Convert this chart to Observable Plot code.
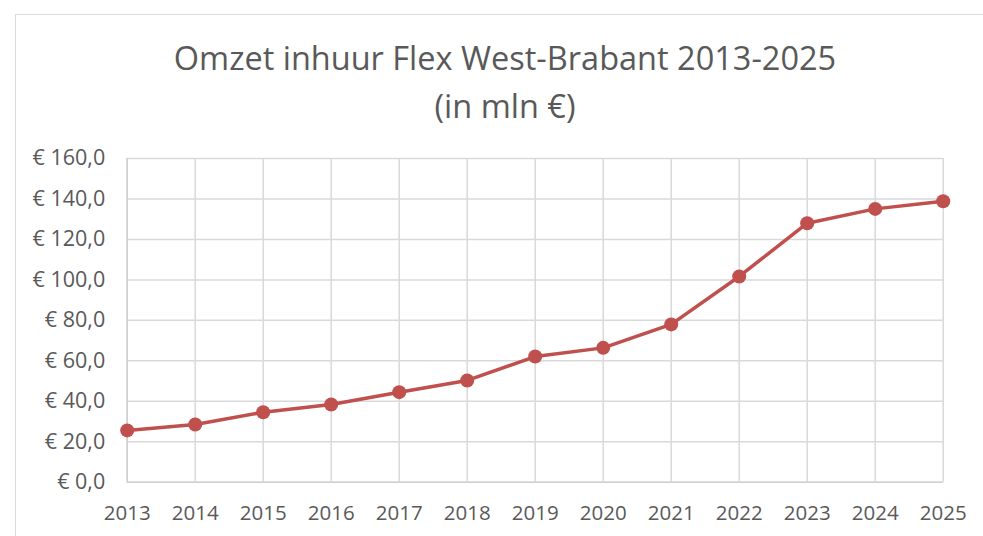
<!DOCTYPE html>
<html>
<head>
<meta charset="utf-8">
<script src="https://cdn.jsdelivr.net/npm/d3@7"></script>
<script src="https://cdn.jsdelivr.net/npm/@observablehq/plot@0.6"></script>
<style>
  html, body { margin: 0; padding: 0; background: #fff; }
  #wrap { position: relative; width: 983px; height: 536px; overflow: hidden; font-family: "Open Sans", sans-serif; }
  #frame { position: absolute; left: 15px; top: 14px; width: 1100px; height: 700px; border-left: 1.5px solid #d9d9d9; border-top: 1.5px solid #d9d9d9; }
  .title { position: absolute; left: 5px; width: 1000px; text-align: center; font-size: 32.5px; line-height: 48px; color: #595959; white-space: nowrap; }
  #chart { position: absolute; left: 0; top: 140px; }
</style>
</head>
<body>
<div id="wrap">
  <div id="frame"></div>
  <div class="title" style="top:34px">Omzet inhuur Flex West-Brabant 2013-2025</div>
  <div class="title" style="top:82px">(in mln €)</div>
  <div id="chart"></div>
</div>
<script>
const years = [2013, 2014, 2015, 2016, 2017, 2018, 2019, 2020, 2021, 2022, 2023, 2024, 2025];
const omzet = [25.6, 28.5, 34.6, 38.4, 44.5, 50.3, 62.1, 66.4, 78.0, 101.7, 128.0, 135.1, 138.9];
const yTicks = [0, 20, 40, 60, 80, 100, 120, 140, 160];

const data = years.map((year, i) => ({year, value: omzet[i]}));
const lineColor = "#c0504d";
const gridColor = "#d9d9d9";

const chart = Plot.plot({
  width: 983,
  height: 396,
  marginTop: 18,
  marginLeft: 126.7,
  marginRight: 40.3,
  marginBottom: 54.3,
  style: { fontFamily: "Open Sans, sans-serif", fontSize: "20.5px", color: "#595959", background: "transparent", overflow: "visible" },
  x: { type: "linear", domain: [2013, 2025] },
  y: { domain: [0, 160] },
  marks: [
    Plot.gridX(years, { stroke: gridColor, strokeOpacity: 1, strokeWidth: 1.5 }),
    Plot.gridY(yTicks, { stroke: gridColor, strokeOpacity: 1, strokeWidth: 1.5 }),
    Plot.ruleY([0], { stroke: "#d0d0d0", strokeWidth: 1.5 }),
    Plot.ruleX([2013], { stroke: "#d0d0d0", strokeWidth: 1.5 }),
    Plot.axisX({ ticks: years, tickSize: 0, tickPadding: 23, tickFormat: d => String(d), label: null }),
    Plot.axisY({ ticks: yTicks, tickSize: 0, tickPadding: 22, fontSize: 21.5, tickFormat: d => "€ " + d.toFixed(1).replace(".", ","), label: null }),
    Plot.line(data, { x: "year", y: "value", stroke: lineColor, strokeWidth: 3.5 }),
    Plot.dot(data, { x: "year", y: "value", r: 7, fill: lineColor, stroke: "none" })
  ]
});
document.getElementById("chart").appendChild(chart);
</script>
</body>
</html>
